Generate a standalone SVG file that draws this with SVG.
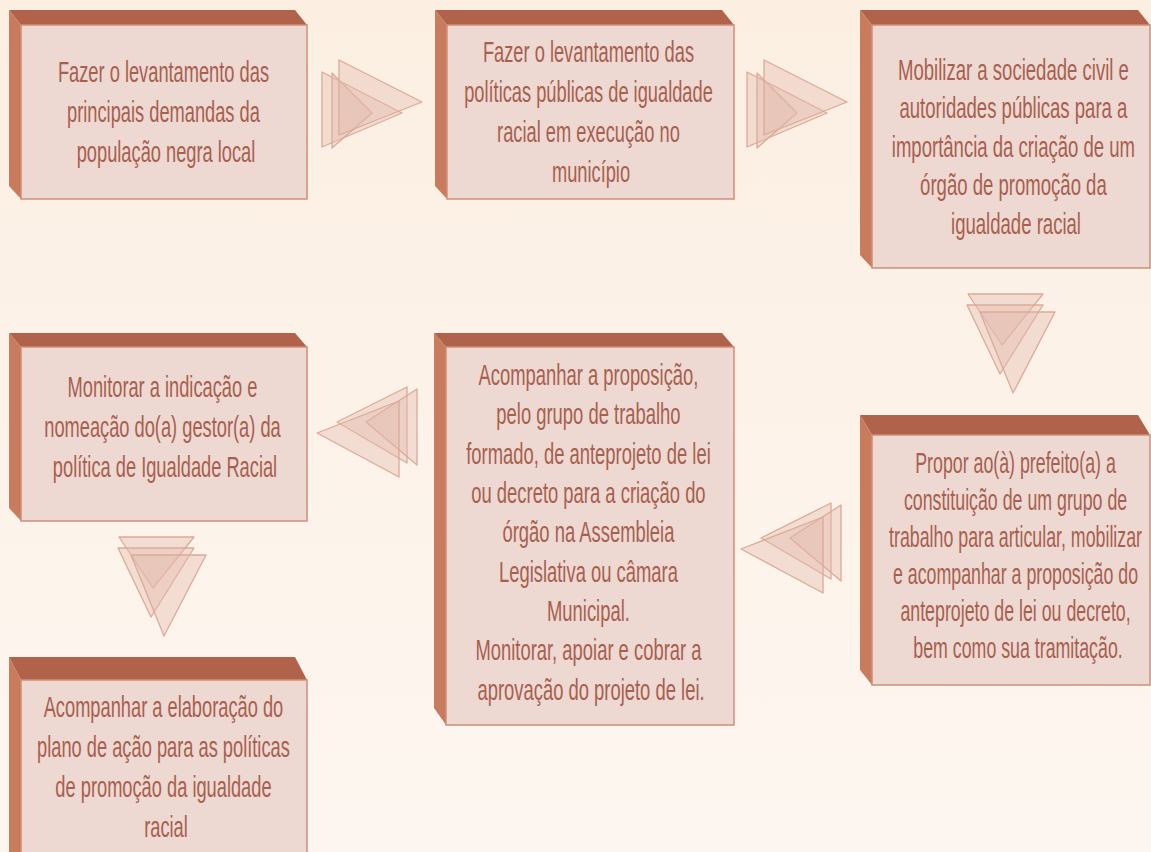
<svg xmlns="http://www.w3.org/2000/svg" width="1151" height="852" viewBox="0 0 1151 852">
<defs>
<linearGradient id="bg" x1="0" y1="0" x2="0" y2="1">
<stop offset="0" stop-color="#fcefe2"/>
<stop offset="1" stop-color="#fdf6f0"/>
</linearGradient>
</defs>
<style>
.top{fill:#b0624a;}
.side{fill:#c97c5d;}
.face{fill:#edd8d2;stroke:#d08f78;stroke-width:1.5;}
.t{font-family:"Liberation Sans",Arial,sans-serif;font-size:29px;fill:#a8604e;text-anchor:middle;}
.tri{fill:#e3bcae;fill-opacity:0.4;stroke:#dcaa98;stroke-width:1.3;stroke-linejoin:round;}
</style>
<rect width="1151" height="852" fill="url(#bg)"/>

<g id="connectors">
<g id="arrow1">
<polygon class="tri" points="322,72 402,113 322,147"/>
<polygon class="tri" points="332,73 372,113 332,148"/>
<polygon class="tri" points="339,60 422,102 339,135"/>
</g>
<g id="arrow2" transform="translate(425,0)">
<polygon class="tri" points="322,72 402,113 322,147"/>
<polygon class="tri" points="332,73 372,113 332,148"/>
<polygon class="tri" points="339,60 422,102 339,135"/>
</g>
<g id="arrow3">
<polygon class="tri" points="968,294 1043,294 1002,345"/>
<polygon class="tri" points="967,305 1043,305 1000,374"/>
<polygon class="tri" points="980,312 1055,312 1013,393"/>
</g>
<g id="arrow4" transform="translate(424,116)">
<polygon class="tri" points="407,387 407,463 337,422"/>
<polygon class="tri" points="417,389 417,465 366,422"/>
<polygon class="tri" points="399,401 399,477 317,433"/>
</g>
<g id="arrow5">
<polygon class="tri" points="407,387 407,463 337,422"/>
<polygon class="tri" points="417,389 417,465 366,422"/>
<polygon class="tri" points="399,401 399,477 317,433"/>
</g>
<g id="arrow6" transform="translate(-849,243)">
<polygon class="tri" points="968,294 1043,294 1002,345"/>
<polygon class="tri" points="967,305 1043,305 1000,374"/>
<polygon class="tri" points="980,312 1055,312 1013,393"/>
</g>
</g>

<g id="node1">
<polygon class="top" points="9,10 295,10 307,25 21,25"/>
<polygon class="side" points="9,10 21,25 21,199 9,186"/>
<rect class="face" x="21" y="25" width="286" height="174"/>
<text class="t" transform="translate(166,0) scale(0.63,1)">
<tspan x="0" y="82">Fazer o levantamento das</tspan>
<tspan x="0" y="122">principais demandas da</tspan>
<tspan x="0" y="162">população negra local</tspan>
</text>
</g>

<g id="node2">
<polygon class="top" points="435,10 722,10 734,25 447,25"/>
<polygon class="side" points="435,10 447,25 447,199 435,186"/>
<rect class="face" x="447" y="25" width="287" height="174"/>
<text class="t" transform="translate(591,0) scale(0.63,1)">
<tspan x="0" y="62">Fazer o levantamento das</tspan>
<tspan x="0" y="102">políticas públicas de igualdade</tspan>
<tspan x="0" y="142">racial em execução no</tspan>
<tspan x="0" y="182">município</tspan>
</text>
</g>

<g id="node3">
<polygon class="top" points="860,10 1138,10 1150,25 872,25"/>
<polygon class="side" points="860,10 872,25 872,268 860,255"/>
<rect class="face" x="872" y="25" width="278" height="243"/>
<text class="t" transform="translate(1016,0) scale(0.64,1)">
<tspan x="0" y="80">Mobilizar a sociedade civil e</tspan>
<tspan x="0" y="118.5">autoridades públicas para a</tspan>
<tspan x="0" y="157">importância da criação de um</tspan>
<tspan x="0" y="195.5">órgão de promoção da</tspan>
<tspan x="0" y="234">igualdade racial</tspan>
</text>
</g>

<g id="node4">
<polygon class="top" points="860,415 1138,415 1150,435 872,435"/>
<polygon class="side" points="860,415 872,435 872,685 860,670"/>
<rect class="face" x="872" y="435" width="278" height="250"/>
<text class="t" transform="translate(1018,0) scale(0.613,1)">
<tspan x="0" y="473">Propor ao(à) prefeito(a) a</tspan>
<tspan x="0" y="510">constituição de um grupo de</tspan>
<tspan x="0" y="547">trabalho para articular, mobilizar</tspan>
<tspan x="0" y="584">e acompanhar a proposição do</tspan>
<tspan x="0" y="621">anteprojeto de lei ou decreto,</tspan>
<tspan x="0" y="658">bem como sua tramitação.</tspan>
</text>
</g>

<g id="node5">
<polygon class="top" points="434,333 722,333 734,347 446,347"/>
<polygon class="side" points="434,333 446,347 446,725 434,708"/>
<rect class="face" x="446" y="347" width="288" height="378"/>
<text class="t" transform="translate(591,0) scale(0.635,1)">
<tspan x="0" y="385">Acompanhar a proposição,</tspan>
<tspan x="0" y="424">pelo grupo de trabalho</tspan>
<tspan x="0" y="464">formado, de anteprojeto de lei</tspan>
<tspan x="0" y="503">ou decreto para a criação do</tspan>
<tspan x="0" y="542">órgão na Assembleia</tspan>
<tspan x="0" y="582">Legislativa ou câmara</tspan>
<tspan x="0" y="621">Municipal.</tspan>
<tspan x="0" y="660">Monitorar, apoiar e cobrar a</tspan>
<tspan x="0" y="700">aprovação do projeto de lei.</tspan>
</text>
</g>

<g id="node6">
<polygon class="top" points="9,333 295,333 307,347 21,347"/>
<polygon class="side" points="9,333 21,347 21,521 9,508"/>
<rect class="face" x="21" y="347" width="286" height="174"/>
<text class="t" transform="translate(165,0) scale(0.63,1)">
<tspan x="0" y="397">Monitorar a indicação e</tspan>
<tspan x="0" y="437">nomeação do(a) gestor(a) da</tspan>
<tspan x="0" y="477">política de Igualdade Racial</tspan>
</text>
</g>

<g id="node7">
<polygon class="top" points="9,657 295,657 307,680 21,680"/>
<polygon class="side" points="9,657 21,680 21,860 9,860"/>
<rect class="face" x="21" y="680" width="286" height="180"/>
<text class="t" transform="translate(166,0) scale(0.63,1)">
<tspan x="0" y="717">Acompanhar a elaboração do</tspan>
<tspan x="0" y="757">plano de ação para as políticas</tspan>
<tspan x="0" y="797">de promoção da igualdade</tspan>
<tspan x="0" y="837">racial</tspan>
</text>
</g>
</svg>
